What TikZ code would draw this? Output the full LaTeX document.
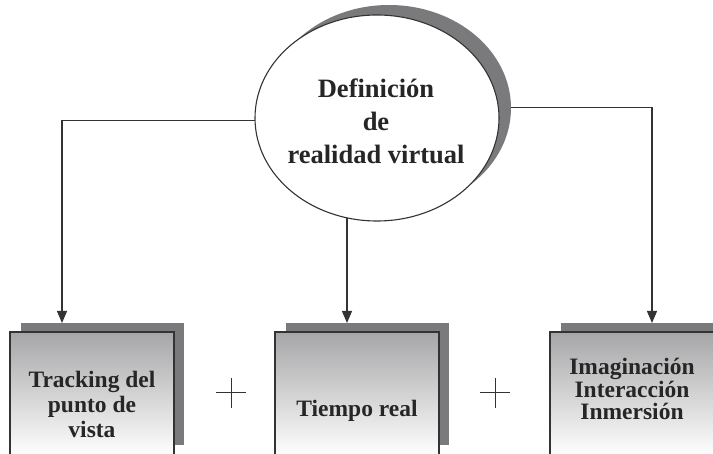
\documentclass[tikz,border=0pt]{standalone}
\usepackage{fontspec}
\setmainfont{Liberation Serif}
\usetikzlibrary{shapes.geometric,arrows.meta}
\definecolor{linec}{HTML}{333333}
\definecolor{textc}{HTML}{262626}
\definecolor{shadowc}{HTML}{7A7A7C}
\definecolor{boxtop}{HTML}{A6A6A8}
\begin{document}
\begin{tikzpicture}[x=1pt,y=-1pt,
  conn/.style={draw=linec, line width=1.2pt},
  arr/.style={conn, -{Triangle[length=12pt,width=10pt]}},
  frontbox/.style={draw=linec, line width=1.3pt, top color=boxtop, bottom color=white,
    minimum width=164pt, minimum height=124pt, inner sep=0pt, outer sep=0pt},
  backbox/.style={fill=shadowc, minimum width=163pt, minimum height=122pt, inner sep=0pt, outer sep=0pt},
  lbl/.style={font=\bfseries\fontsize{23.5}{25}\selectfont, text=textc, align=center, inner sep=0pt},
  lblr/.style={lbl, font=\bfseries\fontsize{23.5}{22.5}\selectfont},
  ttl/.style={font=\bfseries\fontsize{26.5}{33}\selectfont, text=textc, align=center, inner sep=0pt},
  plussign/.style={draw=linec, line width=1pt}
]
\useasboundingbox (0,0) rectangle (713,454);
\clip (0,0) rectangle (713,454);

% boxes
\node[backbox] (lshadow) at (102.5,384) {};
\node[frontbox] (lbox) at (92,394) {};
\node[backbox] (mshadow) at (367.5,384) {};
\node[frontbox] (mbox) at (357,394) {};
\node[backbox] (rshadow) at (642.5,384) {};
\node[frontbox] (rbox) at (632,394) {};

\node[lbl] (ltext) at (92,404.5) {Tracking del\\punto de\\vista};
\node[lbl, anchor=base] (mtext) at (357,417) {Tiempo real};
\node[lblr] (rtext) at (632,389) {Imaginación\\Interacción\\Inmersión};

% plus signs
\coordinate (p1) at (231,393);
\coordinate (p2) at (495,393);
\draw[plussign] ([xshift=-15pt]p1) -- ([xshift=15pt]p1) ([yshift=-15pt]p1) -- ([yshift=15pt]p1);
\draw[plussign] ([xshift=-15pt]p2) -- ([xshift=15pt]p2) ([yshift=-15pt]p2) -- ([yshift=15pt]p2);

% ellipse geometry (for connectors)
\node[ellipse, minimum width=244pt, minimum height=206pt, inner sep=0pt] (ell) at (377,118) {};

% tips
\coordinate (ltip) at ([xshift=41pt]lshadow.north west);
\coordinate (mtip) at ([xshift=61pt]mshadow.north west);
\coordinate (rtip) at ([xshift=91pt]rshadow.north west);

\draw[arr] (ell.181) -| (ltip);
\draw[arr] (ell.center -| mtip) -- (mtip);
\draw[arr] (ell.5) -| (rtip);

% ellipse with shadow
\node[ellipse, fill=shadowc, minimum width=244pt, minimum height=206pt, inner sep=0pt] (ellshadow) at (389,108) {};
\node[ellipse, draw=linec, fill=white, line width=1.1pt, minimum width=244pt, minimum height=206pt, inner sep=0pt] (ellmain) at (ell.center) {};
\node[ttl] (title) at (376,121) {Definición\\de\\realidad virtual};
\end{tikzpicture}
\end{document}
